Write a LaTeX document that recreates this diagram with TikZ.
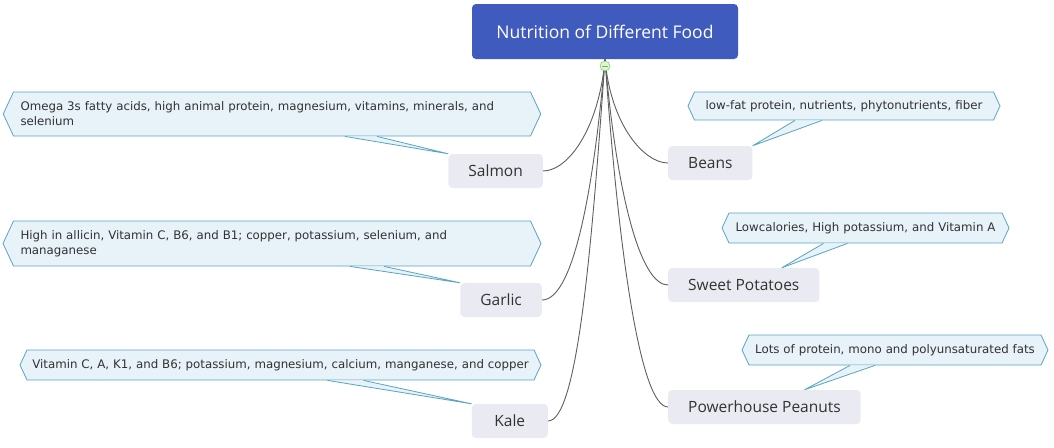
\documentclass[tikz,border=0pt]{standalone}
\usepackage{fontspec}
\setmainfont{Open Sans}
\newfontfamily\notefont{DejaVu Sans}
\usetikzlibrary{shapes.symbols}
\definecolor{headblue}{RGB}{63,91,190}
\definecolor{foodgray}{RGB}{234,235,242}
\definecolor{notefill}{RGB}{232,242,249}
\definecolor{noteline}{RGB}{88,165,192}
\definecolor{branchgray}{RGB}{95,95,95}
\definecolor{inkgray}{RGB}{50,50,50}
\definecolor{foldgreen}{RGB}{110,190,80}
\definecolor{foldfill}{RGB}{222,245,212}
\begin{document}
\begin{tikzpicture}[x=1pt, y=1pt,
    head/.style = {fill=headblue, text=white, rounded corners=4pt, minimum width=266pt, minimum height=55pt, font=\fontsize{17.5}{21}\selectfont},
    food/.style = {fill=foodgray, text=inkgray, rounded corners=4pt, minimum height=34pt, inner xsep=20pt, font=\fontsize{15.5}{18}\selectfont},
    note/.style = {shape=signal, signal to=east and west, signal pointer angle=130, draw=noteline, line width=0.8pt, fill=notefill, text=inkgray, inner xsep=7pt, inner ysep=0pt, align=center, font=\notefont\fontsize{11.8}{15}\selectfont},
    tip/.style = {draw=noteline, line width=0.8pt, fill=notefill},
    branch/.style = {draw=branchgray, line width=0.9pt}]
  \useasboundingbox (0,0) rectangle (1054,-447);
  \node[head] (title) at (605,-31.5) {Nutrition of Different Food};
  \node[food, anchor=east] (salmon) at (543,-171) {Salmon};
  \node[food, anchor=east] (garlic) at (542,-300) {Garlic};
  \node[food, anchor=east, minimum width=76pt] (kale) at (548,-421) {Kale};
  \node[food, anchor=west] (beans) at (668,-163) {Beans};
  \node[food, anchor=west] (sweet) at (668,-285) {Sweet Potatoes};
  \node[food, anchor=west] (peanuts) at (668,-407) {Powerhouse Peanuts};
  \node[note, align=left, text width=503pt, minimum height=44pt] (nsalmon) at (272,-114) {Omega 3s fatty acids, high animal protein, magnesium, vitamins, minerals, and\\selenium};
  \node[note, align=left, text width=503pt, minimum height=45pt] (ngarlic) at (272,-243.5) {High in allicin, Vitamin C, B6, and B1; copper, potassium, selenium, and\\managanese};
  \node[note, inner xsep=2pt, text width=503pt, minimum height=30pt] (nkale) at (280.5,-365) {Vitamin C, A, K1, and B6; potassium, magnesium, calcium, manganese, and copper};
  \node[note, inner xsep=2pt, text width=295pt, minimum height=28pt] (nbeans) at (844,-106) {low-fat protein, nutrients, phytonutrients, fiber};
  \node[note, inner xsep=2pt, text width=269pt, minimum height=30pt] (nsweet) at (865.5,-228) {Lowcalories, High potassium, and Vitamin A};
  \node[note, inner xsep=2pt, text width=288pt, minimum height=30pt] (npeanuts) at (895,-350) {Lots of protein, mono and polyunsaturated fats};
  \filldraw[tip] ([xshift=73pt]nsalmon.south) -- (salmon.north west) -- ([xshift=105pt]nsalmon.south);
  \filldraw[tip] ([xshift=78pt]ngarlic.south) -- (garlic.north west) -- ([xshift=112pt]ngarlic.south);
  \filldraw[tip] ([xshift=47pt]nkale.south) -- (kale.north west) -- ([xshift=83pt]nkale.south);
  \filldraw[tip] ([xshift=-49pt]nbeans.south) -- (beans.north east) -- ([xshift=-22pt]nbeans.south);
  \filldraw[tip] ([xshift=-42pt]nsweet.south) -- ([xshift=38pt]sweet.north) -- ([xshift=-18pt]nsweet.south);
  \filldraw[tip] ([xshift=-45pt]npeanuts.south) -- ([xshift=40pt]peanuts.north) -- ([xshift=-20pt]npeanuts.south);
  \draw[branch] (title.south) to[out=265, in=0, out looseness=1.4, in looseness=0.5] (salmon.east);
  \draw[branch] (title.south) to[out=265, in=0, out looseness=1.5, in looseness=0.3] (garlic.east);
  \draw[branch] (title.south) to[out=266, in=0, out looseness=1.4, in looseness=0.2] (kale.east);
  \draw[branch] (title.south) to[out=275, in=180, out looseness=1.4, in looseness=0.5] (beans.west);
  \draw[branch] (title.south) to[out=275, in=180, out looseness=1.5, in looseness=0.3] (sweet.west);
  \draw[branch] (title.south) to[out=274, in=180, out looseness=1.4, in looseness=0.2] (peanuts.west);
  \node[circle, draw=foldgreen, fill=foldfill, inner sep=0pt, minimum size=10pt] (fold) at (605,-66) {};
  \draw[foldgreen] ([xshift=2.5pt]fold.west) -- ([xshift=-2.5pt]fold.east);
\end{tikzpicture}
\end{document}
